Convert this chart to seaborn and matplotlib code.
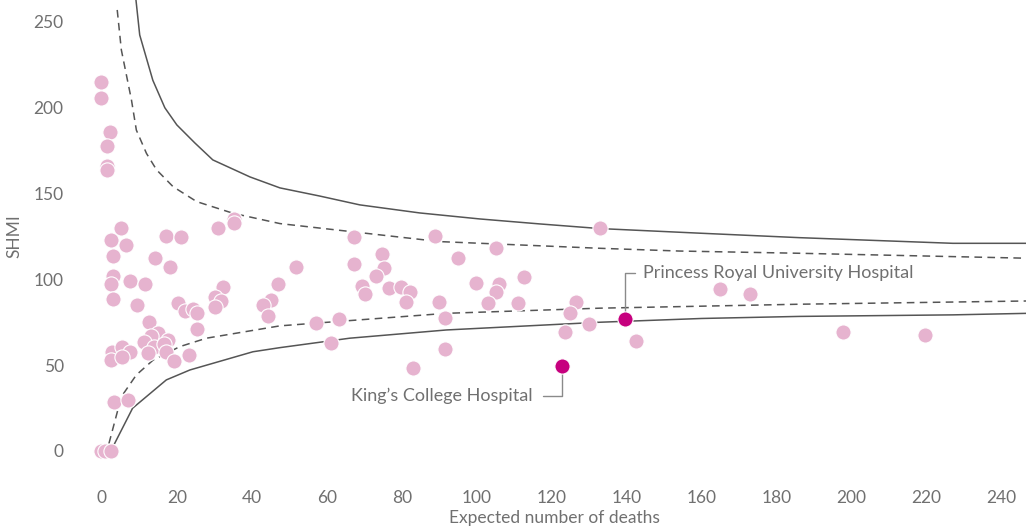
import numpy as np
import pandas as pd
import seaborn as sns
import matplotlib.pyplot as plt

# hospital points (expected deaths, SHMI)
expected = [-0.3, -0.3, 2.1, 1.3, 1.3, 1.3, 2.4, 5.1, 3.0, 6.4,
            3.1, 2.4, 3.1, 7.4, 11.4, 9.4, 17.1, 21.2, 14.3, 18.3,
            31.1, 35.3, 35.3, 20.4, 22.2, 24.4, 25.4, 32.4, 30.1, 31.9,
            30.1, 12.5, 25.4, 14.9, 13.1, 17.7, 11.3, 13.9, 16.6, 17.1,
            12.3, 19.3, 23.3, 2.8, 5.3, 7.4, 2.4, 5.3, 3.2, 6.9,
            -0.3, 0.8, 2.4, 51.9, 47.0, 45.2, 43.0, 44.4, 57.1, 63.2,
            61.1, 67.2, 67.2, 74.8, 75.3, 73.2, 69.3, 70.2, 76.5, 79.7,
            82.3, 81.1, 88.9, 95.0, 105.1, 99.7, 105.9, 105.1, 112.7, 89.9,
            102.9, 111.0, 91.6, 91.6, 82.9, 132.8, 126.6, 125.0, 130.0, 123.6,
            142.6, 164.8, 172.8, 197.8, 219.5]
shmi = [215.0, 205.7, 185.9, 177.7, 166.0, 163.5, 123.0, 130.0, 113.6, 120.0,
        102.0, 97.3, 88.8, 99.0, 97.1, 85.1, 125.5, 124.7, 112.3, 107.4,
        130.1, 135.2, 132.7, 86.2, 81.6, 82.6, 80.2, 95.4, 89.9, 87.6,
        83.7, 75.2, 70.9, 68.9, 66.8, 64.5, 63.5, 60.6, 62.2, 57.9,
        56.9, 52.4, 56.1, 57.9, 60.8, 57.7, 53.0, 55.0, 28.6, 29.7,
        0.0, 0.0, 0.0, 107.4, 97.3, 88.0, 85.0, 78.7, 74.4, 76.7,
        62.8, 124.9, 108.8, 114.8, 106.5, 101.8, 96.3, 91.5, 95.2, 95.4,
        92.5, 86.8, 125.5, 112.5, 118.1, 98.1, 97.1, 92.8, 101.6, 86.8,
        86.2, 86.0, 77.7, 59.6, 48.5, 129.8, 87.0, 80.2, 74.0, 69.2,
        64.1, 94.2, 91.7, 69.3, 67.6]

highlight_names = ["King\u2019s College Hospital", "Princess Royal University Hospital"]
highlight_expected = [122.7, 139.5]
highlight_shmi = [49.7, 76.9]

# control limits
upper_998_x = [9.1, 10.1, 13.6, 16.8, 20.0, 24.8, 29.6, 39.5, 47.5, 58.0,
               68.8, 84.8, 100.8, 116.8, 132.8, 159.5, 186.0, 227.0, 247.0]
upper_998_y = [262.8, 242.4, 216.0, 200.0, 190.0, 179.5, 169.6, 159.7, 153.3, 148.6,
               143.4, 138.7, 135.2, 132.3, 129.6, 126.9, 124.3, 121.0, 121.0]
upper_95_x = [4.1, 5.2, 7.9, 9.2, 11.9, 14.6, 19.0, 25.3, 35.0, 47.5,
              90.1, 132.8, 154.0, 186.0, 247.0]
upper_95_y = [257.0, 233.7, 204.5, 187.0, 173.4, 163.8, 154.0, 145.3, 138.5, 132.5,
              122.0, 118.1, 116.5, 115.2, 112.3]
lower_95_x = [1.0, 5.2, 9.2, 13.7, 20.8, 27.9, 47.5, 91.9, 132.8, 154.0,
              186.0, 247.0]
lower_95_y = [-3.0, 31.6, 44.3, 53.0, 60.8, 65.7, 72.9, 80.2, 83.2, 84.1,
              85.5, 87.4]
lower_998_x = [2.4, 8.2, 17.2, 23.5, 40.3, 47.5, 66.1, 91.9, 132.8, 160.0,
               186.0, 227.0, 247.0]
lower_998_y = [0.0, 24.9, 41.4, 47.2, 57.8, 60.2, 65.7, 70.5, 75.0, 77.2,
               78.4, 79.3, 80.2]

sns.set_style("white")
plt.rcParams['font.family'] = ['Lato', 'DejaVu Sans']
grey = '#707070'
line_col = '#555555'

fig = plt.figure(figsize=(10.26, 5.31), dpi=100)
ax = fig.add_axes([0.081, 0.112, 0.919, 0.888])

for lx, ly, ls in [(upper_998_x, upper_998_y, '-'), (lower_998_x, lower_998_y, '-'),
                   (upper_95_x, upper_95_y, (0, (5, 3.5))), (lower_95_x, lower_95_y, (0, (5, 3.5)))]:
    ax.plot(lx, ly, color=line_col, lw=1.1, linestyle=ls, zorder=1)

pts = pd.DataFrame({'expected': expected, 'shmi': shmi})
sns.scatterplot(data=pts, x='expected', y='shmi', ax=ax, color='#e6b3cf',
                s=120, edgecolor='white', linewidth=0.8, zorder=3)
hl = pd.DataFrame({'expected': highlight_expected, 'shmi': highlight_shmi})
sns.scatterplot(data=hl, x='expected', y='shmi', ax=ax, color='#c6007e',
                s=120, edgecolor='white', linewidth=0.8, zorder=4)

# callouts
kx, ky = highlight_expected[0], highlight_shmi[0]
ax.plot([kx, kx, 117.6], [ky, 32.1, 32.1], color='#8a8a8a', lw=1, zorder=2)
ax.text(115.0, 32.1, highlight_names[0], ha='right', va='center', fontsize=13, color=grey)
px, py = highlight_expected[1], highlight_shmi[1]
ax.plot([px, px, 142.1], [py, 103.6, 103.6], color='#8a8a8a', lw=1, zorder=2)
ax.text(144.3, 103.6, highlight_names[1], ha='left', va='center', fontsize=13, color=grey)

ax.set_xlim(-5, 246.5)
ax.set_ylim(-12, 262.8)
ax.set_xticks(np.arange(0, 241, 20))
ax.set_yticks(np.arange(0, 251, 50))
ax.tick_params(axis='both', length=0, labelsize=12.5, labelcolor=grey)
ax.tick_params(axis='x', pad=13)
ax.tick_params(axis='y', pad=14)
ax.set_xlabel('Expected number of deaths', fontsize=12.5, color=grey, labelpad=3)
ax.set_ylabel('SHMI', fontsize=12.5, color=grey, labelpad=8)
for s in ax.spines.values():
    s.set_visible(False)

plt.savefig('out.png', dpi=100)
